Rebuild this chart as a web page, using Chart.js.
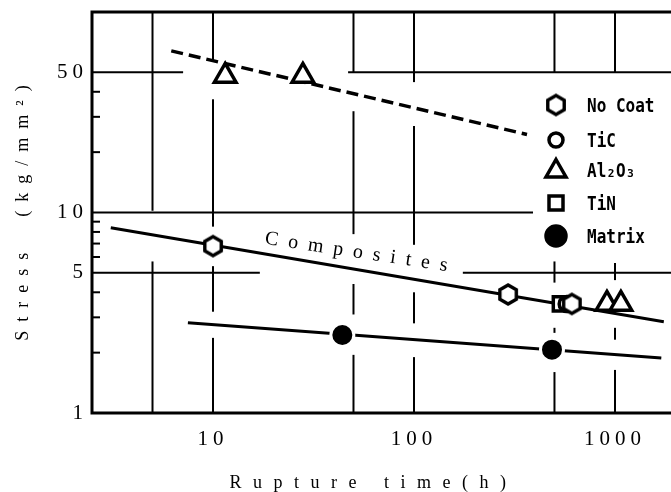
<!DOCTYPE html>
<html>
  <head>
    <script src="https://cdn.jsdelivr.net/npm/chart.js"></script>
  </head>
  <style>
    html, body {
      margin: 0;
      padding: 0;
      overflow: hidden;
      background: #ffffff;
    }
    #container {
      width: 671px;
      height: 492px;
      position: relative;
    }
    canvas {
      display: block;
    }
  </style>
  <body>
    <div id="container">
      <canvas id="ruptureChart"></canvas>
    </div>
    <script>
      // axis ticks
      const X_TICKS = [10, 100, 1000];
      const Y_TICKS = [1, 5, 10, 50];
      const Y_MINOR = [2, 3, 4, 6, 7, 8, 9, 20, 30, 40];

      // measured points (rupture time h, stress kg/mm2)
      const NO_COAT_X = [10, 294, 610];
      const NO_COAT_Y = [6.8, 3.9, 3.5];
      const TIC_X = [575];
      const TIC_Y = [3.5];
      const AL2O3_X = [11.5, 28, 912, 1070];
      const AL2O3_Y = [48, 48, 3.5, 3.5];
      const TIN_X = [535];
      const TIN_Y = [3.5];
      const MATRIX_X = [44, 486];
      const MATRIX_Y = [2.45, 2.07];

      // fitted lines
      const COMPOSITE_FIT_X = [3.1, 1750];
      const COMPOSITE_FIT_Y = [8.4, 2.85];
      const AL2O3_FIT_X = [6.2, 365];
      const AL2O3_FIT_Y = [64, 24.5];
      const MATRIX_FIT_X = [7.5, 1700];
      const MATRIX_FIT_Y = [2.82, 1.88];

      const LEGEND_LABELS = ['No Coat', 'TiC', 'Al₂O₃', 'TiN', 'Matrix'];

      const toPoints = (xs, ys) => xs.map((x, i) => ({ x: x, y: ys[i] }));

      const makeHex = (r, lw) => {
        const c = document.createElement('canvas');
        const w = Math.ceil(2 * r * Math.cos(Math.PI / 6) + lw + 2);
        const h = Math.ceil(2 * r + lw + 2);
        c.width = w;
        c.height = h;
        const g = c.getContext('2d');
        g.beginPath();
        for (let i = 0; i < 6; i++) {
          const a = -Math.PI / 2 + i * Math.PI / 3;
          const px = w / 2 + r * Math.cos(a);
          const py = h / 2 + r * Math.sin(a);
          if (i === 0) g.moveTo(px, py); else g.lineTo(px, py);
        }
        g.closePath();
        g.fillStyle = '#fff';
        g.fill();
        g.lineWidth = lw;
        g.strokeStyle = '#000';
        g.stroke();
        return c;
      };
      const HEX = makeHex(9.5, 3.4);

      // broken grid lines of the original figure, in data units
      const V_SEGS = [
        [5, [[100, 10.2], [5.7, 1]]],
        [10, [[100, 57], [36.7, 8.5], [5.4, 3.2], [2.37, 1]]],
        [50, [[100, 50], [32, 7.8], [4.4, 3.1], [1.95, 1]]],
        [100, [[100, 44.7], [27, 6.9], [4.0, 2.8], [1.9, 1]]],
        [500, [[100, 50], [5.7, 4.47], [2.66, 2.51], [1.6, 1]]],
        [1000, [[100, 50], [5.6, 4.6], [2.66, 2.32], [1.64, 1]]]
      ];
      const H_SEGS = [
        [50, [[2.5, 7.1], [47, 1900]]],
        [10, [[2.5, 391]]],
        [5, [[2.5, 17.1], [175, 1900]]]
      ];

      const drawMarker = (ctx, kind, x, y) => {
        ctx.save();
        ctx.lineWidth = 3.5;
        ctx.strokeStyle = '#000';
        ctx.fillStyle = '#fff';
        ctx.beginPath();
        if (kind === 'hex') {
          ctx.drawImage(HEX, x - HEX.width / 2, y - HEX.height / 2);
          ctx.restore();
          return;
        } else if (kind === 'circle') {
          ctx.arc(x, y, 7, 0, Math.PI * 2);
        } else if (kind === 'triangle') {
          ctx.moveTo(x, y - 10.5);
          ctx.lineTo(x + 10, y + 7);
          ctx.lineTo(x - 10, y + 7);
          ctx.closePath();
        } else if (kind === 'rect') {
          ctx.rect(x - 7, y - 7, 14, 14);
        } else {
          ctx.arc(x, y, 10, 0, Math.PI * 2);
          ctx.fillStyle = '#000';
        }
        ctx.fill();
        ctx.stroke();
        ctx.restore();
      };

      const framePlugin = {
        id: 'frame',
        beforeDraw: (chart) => {
          chart.ctx.letterSpacing = '5px';
        },
        beforeDatasetsDraw: (chart) => {
          const ctx = chart.ctx;
          const xs = chart.scales.x;
          const ys = chart.scales.y;
          const area = chart.chartArea;
          ctx.save();
          ctx.letterSpacing = '0px';
          ctx.strokeStyle = '#000';
          ctx.lineWidth = 2;
          V_SEGS.forEach(([xv, segs]) => {
            const px = xs.getPixelForValue(xv);
            segs.forEach(([a, b]) => {
              ctx.beginPath();
              ctx.moveTo(px, ys.getPixelForValue(a));
              ctx.lineTo(px, ys.getPixelForValue(b));
              ctx.stroke();
            });
          });
          H_SEGS.forEach(([yv, segs]) => {
            const py = ys.getPixelForValue(yv);
            segs.forEach(([a, b]) => {
              ctx.beginPath();
              ctx.moveTo(xs.getPixelForValue(a), py);
              ctx.lineTo(xs.getPixelForValue(b), py);
              ctx.stroke();
            });
          });
          Y_MINOR.forEach((v) => {
            const py = ys.getPixelForValue(v);
            ctx.beginPath();
            ctx.moveTo(area.left, py);
            ctx.lineTo(area.left + 8, py);
            ctx.stroke();
          });
          ctx.lineWidth = 3;
          ctx.beginPath();
          ctx.moveTo(area.right + 2, area.top);
          ctx.lineTo(area.left, area.top);
          ctx.lineTo(area.left, area.bottom);
          ctx.lineTo(area.right + 2, area.bottom);
          ctx.stroke();
          ctx.restore();
        },
        afterDatasetsDraw: (chart) => {
          const ctx = chart.ctx;
          const xs = chart.scales.x;
          const ys = chart.scales.y;
          const area = chart.chartArea;
          ctx.save();
          ctx.fillStyle = '#000';

          // label along the composites line
          const x0 = xs.getPixelForValue(COMPOSITE_FIT_X[0]);
          const y0 = ys.getPixelForValue(COMPOSITE_FIT_Y[0]);
          const x1 = xs.getPixelForValue(COMPOSITE_FIT_X[1]);
          const y1 = ys.getPixelForValue(COMPOSITE_FIT_Y[1]);
          const ang = Math.atan2(y1 - y0, x1 - x0) - 0.02;
          const tx = xs.getPixelForValue(18);
          const ty = y0 + (tx - x0) * (y1 - y0) / (x1 - x0) - 10;
          ctx.save();
          ctx.translate(tx, ty);
          ctx.rotate(ang);
          ctx.font = '20px "Liberation Serif"';
          ctx.letterSpacing = '10px';
          ctx.textAlign = 'left';
          ctx.textBaseline = 'alphabetic';
          ctx.fillText('Composites', 0, 0);
          ctx.restore();

          // legend
          const kinds = ['hex', 'circle', 'triangle', 'rect', 'dot'];
          const rowsY = [105, 140, 170, 203, 236];
          const mx = area.right - 115;
          kinds.forEach((k, i) => {
            drawMarker(ctx, k, mx, rowsY[i]);
            ctx.save();
            ctx.translate(mx + 31, rowsY[i] + 7);
            ctx.scale(1, 1.2);
            ctx.letterSpacing = '0px';
            ctx.font = 'bold 16px "DejaVu Sans Mono"';
            ctx.textAlign = 'left';
            ctx.textBaseline = 'alphabetic';
            ctx.fillText(LEGEND_LABELS[i], 0, 0);
            ctx.restore();
          });

          // axis titles
          ctx.font = '18px "Liberation Serif"';
          ctx.textBaseline = 'alphabetic';
          ctx.textAlign = 'center';
          ctx.letterSpacing = '11.5px';
          ctx.fillText('Rupture time(h)', (area.left + area.right) / 2 - 8, 488);
          ctx.save();
          ctx.translate(28, (area.top + area.bottom) / 2);
          ctx.rotate(-Math.PI / 2);
          ctx.letterSpacing = '9px';
          ctx.fillText('Stress  (kg/mm²)', 4, 0);
          ctx.restore();
          ctx.restore();
        }
      };

      const noPadding = (scale) => {
        scale.paddingLeft = 0;
        scale.paddingRight = 0;
        scale.paddingTop = 0;
        scale.paddingBottom = 0;
      };

      const lineSet = (xs, ys, dash, width) => ({
        type: 'line',
        data: toPoints(xs, ys),
        borderColor: '#000',
        borderWidth: width,
        borderDash: dash,
        pointRadius: 0,
        showLine: true,
        fill: false,
        order: 2
      });

      const pointSet = (label, xs, ys, style, radius, fill, edge, edgeWidth) => ({
        type: 'scatter',
        label: label,
        data: toPoints(xs, ys),
        pointStyle: style,
        pointRadius: radius,
        pointHoverRadius: radius,
        pointBorderWidth: edgeWidth,
        pointBorderColor: edge,
        pointBackgroundColor: fill,
        showLine: false,
        order: 1
      });

      const data = {
        datasets: [
          lineSet(COMPOSITE_FIT_X, COMPOSITE_FIT_Y, [], 3),
          lineSet(AL2O3_FIT_X, AL2O3_FIT_Y, [12, 6], 3.5),
          lineSet(MATRIX_FIT_X, MATRIX_FIT_Y, [], 3),
          pointSet('No Coat', NO_COAT_X, NO_COAT_Y, HEX, 10, '#fff', '#000', 3.5),
          pointSet('TiC', TIC_X, TIC_Y, 'circle', 7.5, '#fff', '#000', 3.5),
          pointSet('Al₂O₃', AL2O3_X, AL2O3_Y, 'triangle', 12.5, '#fff', '#000', 3.5),
          pointSet('TiN', TIN_X, TIN_Y, 'rect', 10, '#fff', '#000', 3.5),
          pointSet('Matrix', MATRIX_X, MATRIX_Y, 'circle', 11.5, '#000', '#fff', 3)
        ]
      };

      const config = {
        type: 'scatter',
        data: data,
        options: {
          responsive: true,
          maintainAspectRatio: false,
          animation: false,
          layout: {
            autoPadding: false,
            padding: { top: 12, right: 0, left: 0, bottom: 0 }
          },
          plugins: {
            legend: { display: false },
            tooltip: { enabled: false }
          },
          scales: {
            x: {
              type: 'logarithmic',
              min: 2.5,
              max: 1900,
              grid: { display: false, drawTicks: false },
              border: { display: false },
              afterBuildTicks: (scale) => {
                scale.ticks = X_TICKS.map((v) => ({ value: v }));
              },
              afterFit: (scale) => {
                scale.height = 79;
                noPadding(scale);
              },
              ticks: {
                autoSkip: false,
                maxRotation: 0,
                padding: 14,
                color: '#000',
                font: { family: 'Liberation Serif', size: 21 },
                callback: (v) => String(v)
              }
            },
            y: {
              type: 'logarithmic',
              min: 1,
              max: 100,
              grid: { display: false, drawTicks: false },
              border: { display: false },
              afterBuildTicks: (scale) => {
                scale.ticks = Y_TICKS.map((v) => ({ value: v }));
              },
              afterFit: (scale) => {
                scale.width = 92;
                noPadding(scale);
              },
              ticks: {
                autoSkip: false,
                padding: 4,
                color: '#000',
                font: { family: 'Liberation Serif', size: 21 },
                callback: (v) => String(v)
              }
            }
          }
        },
        plugins: [framePlugin]
      };

      new Chart(document.getElementById('ruptureChart'), config);
    </script>
  </body>
</html>
